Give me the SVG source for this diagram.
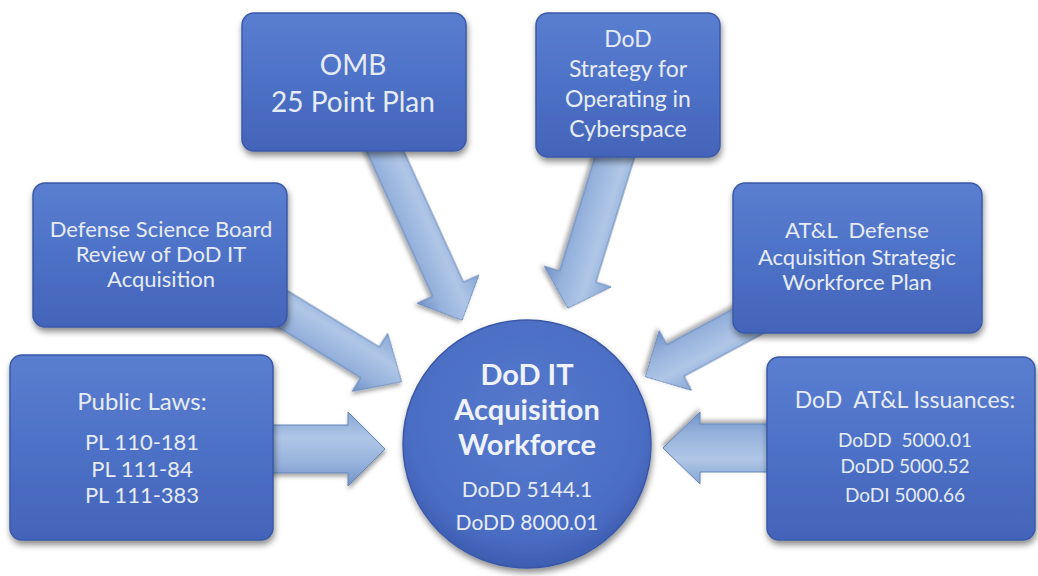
<svg xmlns="http://www.w3.org/2000/svg" width="1038" height="576" viewBox="0 0 1038 576">
<defs>
<linearGradient id="boxg" x1="0" y1="0" x2="0" y2="1">
<stop offset="0" stop-color="#5a7ed0"/>
<stop offset="0.5" stop-color="#4d71c6"/>
<stop offset="1" stop-color="#4364b9"/>
</linearGradient>
<radialGradient id="circg" cx="0.5" cy="0.4" r="0.6">
<stop offset="0" stop-color="#5679cc"/>
<stop offset="0.8" stop-color="#4a6dc3"/>
<stop offset="1" stop-color="#3d5db1"/>
</radialGradient>
<linearGradient id="arrg" x1="0" y1="0" x2="0" y2="1">
<stop offset="0" stop-color="#86a6d4"/>
<stop offset="0.35" stop-color="#afc6e6"/>
<stop offset="0.7" stop-color="#96b2dc"/>
<stop offset="1" stop-color="#7191c6"/>
</linearGradient>
<filter id="sh" x="-20%" y="-20%" width="140%" height="150%">
<feDropShadow dx="1" dy="4" stdDeviation="3" flood-color="#000" flood-opacity="0.45"/>
</filter>
<filter id="ash" x="-20%" y="-30%" width="140%" height="160%">
<feDropShadow dx="1" dy="3" stdDeviation="2" flood-color="#000" flood-opacity="0.35"/>
</filter>
</defs>
<style>
.box{fill:url(#boxg);stroke:#3a58a8;stroke-width:1.5;filter:url(#sh)}
.circ{fill:url(#circg);stroke:#3a58a8;stroke-width:1.5;filter:url(#sh)}
.arr{fill:url(#arrg);stroke:#6585bb;stroke-width:1;filter:url(#ash)}
text{font-family:Lato,"Open Sans","Liberation Sans",sans-serif;fill:#e6ecf7;text-anchor:middle;white-space:pre}
.t19{font-size:19px}
.t21{font-size:21px}
.t22{font-size:22px}
.t23{font-size:23px}
.t24{font-size:24px}
.t28{font-size:28px}
.tb{font-size:29px;font-weight:bold;fill:#eef2fa}
</style>
<rect width="1038" height="576" fill="#ffffff"/>
<g id="connectors">
<polygon class="arr" transform="translate(380,140) rotate(65.5)" points="0,-17 164,-17 164,-34 198,0 164,34 164,17 0,17"/>
<polygon class="arr" transform="translate(620,140) rotate(107.2)" points="0,-19 143,-19 143,-35 176,0 143,35 143,19 0,19"/>
<polygon class="arr" transform="translate(260,295) rotate(31.5)" points="0,-18 129,-18 129,-34 166,0 129,34 129,18 0,18"/>
<polygon class="arr" transform="translate(765,312) rotate(151.6)" points="0,-18 102,-18 102,-34 136,0 102,34 102,18 0,18"/>
<polygon class="arr" transform="translate(265,449)" points="0,-24 83,-24 83,-37 120,0 83,37 83,24 0,24"/>
<polygon class="arr" transform="translate(775,448) rotate(180)" points="0,-24 75,-24 75,-36 112,0 75,36 75,24 0,24"/>
</g>
<g id="omb">
<rect class="box" x="242" y="13" width="224" height="138" rx="12"/>
<text class="t28" x="353" y="75">OMB</text>
<text class="t28" x="353" y="112">25 Point Plan</text>
</g>
<g id="strategy">
<rect class="box" x="536" y="13" width="184" height="144" rx="12"/>
<text class="t23" x="628" y="47">DoD</text>
<text class="t23" x="628" y="77">Strategy for</text>
<text class="t23" x="628" y="107">Operating in</text>
<text class="t23" x="628" y="137">Cyberspace</text>
</g>
<g id="dsb">
<rect class="box" x="33" y="183" width="254" height="144" rx="12"/>
<text class="t22" x="161" y="237">Defense Science Board</text>
<text class="t22" x="161" y="262">Review of DoD IT</text>
<text class="t22" x="161" y="287">Acquisition</text>
</g>
<g id="atl-plan">
<rect class="box" x="733" y="183" width="249" height="150" rx="12"/>
<text class="t22" x="857" y="238">AT&amp;L  Defense</text>
<text class="t22" x="857" y="265">Acquisition Strategic</text>
<text class="t22" x="857" y="290">Workforce Plan</text>
</g>
<g id="public-laws">
<rect class="box" x="10" y="355" width="263" height="185" rx="12"/>
<text class="t24" x="142" y="410">Public Laws:</text>
<text class="t22" x="142" y="450">PL 110-181</text>
<text class="t22" x="142" y="477">PL 111-84</text>
<text class="t22" x="142" y="503">PL 111-383</text>
</g>
<g id="issuances">
<rect class="box" x="767" y="357" width="268" height="183" rx="12"/>
<text class="t23" x="905" y="408">DoD  AT&amp;L Issuances:</text>
<text class="t19" x="905" y="447">DoDD  5000.01</text>
<text class="t19" x="905" y="473">DoDD 5000.52</text>
<text class="t19" x="905" y="502">DoDI 5000.66</text>
</g>
<g id="center">
<circle class="circ" cx="527" cy="444" r="124"/>
<text class="tb" x="527" y="385">DoD IT</text>
<text class="tb" x="527" y="420">Acquisition</text>
<text class="tb" x="527" y="455">Workforce</text>
<text class="t21" x="527" y="497">DoDD 5144.1</text>
<text class="t21" x="527" y="530">DoDD 8000.01</text>
</g>
</svg>
